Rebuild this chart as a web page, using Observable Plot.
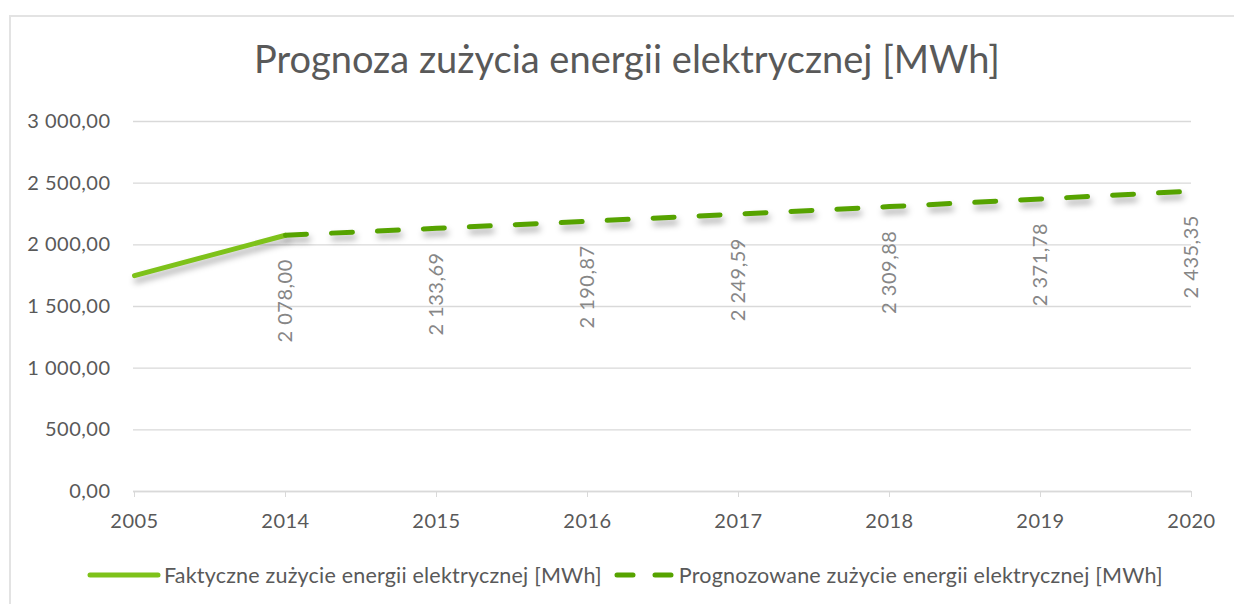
<!DOCTYPE html>
<html>
<head>
<meta charset="utf-8">
<script src="https://cdn.jsdelivr.net/npm/d3@7"></script>
<script src="https://cdn.jsdelivr.net/npm/@observablehq/plot@0.6"></script>
<style>
  html, body { margin: 0; padding: 0; background: #fff; }
  body { width: 1234px; height: 604px; overflow: hidden; position: relative; font-family: Lato, "Open Sans", sans-serif; }
  #frame { position: absolute; left: 9px; top: 15px; width: 1240px; height: 600px; border-left: 2px solid #e3e3e3; border-top: 2px solid #e3e3e3; box-sizing: border-box; }
  #chart { position: absolute; left: 0; top: 0; }
  #title { position: absolute; left: 0; width: 1254px; top: 35px; text-align: center; font-size: 38px; color: #595959; white-space: nowrap; }
  #legend { position: absolute; left: 87px; top: 562px; height: 26px; display: flex; align-items: center; font-size: 21.5px; color: #595959; white-space: nowrap; letter-spacing: 0.2px; }
  #legend svg { display: block; }
  svg g[aria-label="line"] path { filter: drop-shadow(2px 5px 3px rgba(0,0,0,0.32)); }
  svg text { letter-spacing: 0.5px; }
</style>
</head>
<body>
<div id="frame"></div>
<div id="chart"></div>
<div id="title">Prognoza zużycia energii elektrycznej [MWh]</div>
<div id="legend"></div>
<script>
// ---- data ----
const years = ["2005", "2014", "2015", "2016", "2017", "2018", "2019", "2020"];
const actualYears = ["2005", "2014"];
const actualValues = [1750, 2078.00];
const forecastYears = ["2014", "2015", "2016", "2017", "2018", "2019", "2020"];
const forecastValues = [2078.00, 2133.69, 2190.87, 2249.59, 2309.88, 2371.78, 2435.35];
const yTicks = [0, 500, 1000, 1500, 2000, 2500, 3000];
const seriesNames = ["Faktyczne zużycie energii elektrycznej [MWh]", "Prognozowane zużycie energii elektrycznej [MWh]"];
const seriesColors = ["#7ec21a", "#56a300"];

const locale = d3.formatLocale({decimal: ",", thousands: " ", grouping: [3], currency: ["", " zł"]});
const fmt = locale.format(",.2f");

const actual = actualYears.map((y, i) => ({year: y, value: actualValues[i]}));
const forecast = forecastYears.map((y, i) => ({year: y, value: forecastValues[i]}));

const chart = Plot.plot({
  width: 1234,
  height: 604,
  marginLeft: 133,
  marginRight: 43,
  marginTop: 121,
  marginBottom: 113,
  style: {fontFamily: "Lato, 'Open Sans', sans-serif", background: "transparent"},
  x: {type: "point", domain: years, padding: 0},
  y: {domain: [0, 3000]},
  marks: [
    Plot.gridY(yTicks, {stroke: "#d9d9d9", strokeOpacity: 1, strokeWidth: 1.3}),
    Plot.ruleY([0], {stroke: "#d9d9d9", strokeWidth: 1.5}),
    Plot.axisX({tickSize: 6, stroke: "#d9d9d9", strokeOpacity: 1, tickPadding: 16, fontSize: 20, fill: "#595959", label: null}),
    Plot.axisY(yTicks, {tickSize: 0, tickPadding: 23, tickFormat: fmt, fontSize: 20, fill: "#595959", label: null}),
    Plot.line(actual, {x: "year", y: "value", stroke: seriesColors[0], strokeWidth: 5, strokeLinecap: "round", strokeLinejoin: "round"}),
    Plot.line(forecast, {x: "year", y: "value", stroke: seriesColors[1], strokeWidth: 5, strokeLinecap: "round", strokeLinejoin: "round", strokeDasharray: "21,25"}),
    Plot.text(forecast, {x: "year", y: "value", text: d => fmt(d.value), rotate: -90, textAnchor: "end", dy: 24, fontSize: 20, fill: "#868686"})
  ]
});
document.getElementById("chart").appendChild(chart);

// ---- legend ----
const legend = document.getElementById("legend");
function sample(i) {
  const ns = "http://www.w3.org/2000/svg";
  const s = document.createElementNS(ns, "svg");
  s.setAttribute("width", i === 0 ? 76 : 64); s.setAttribute("height", 12);
  const l = document.createElementNS(ns, "line");
  l.setAttribute("y1", 6); l.setAttribute("y2", 6);
  l.setAttribute("stroke", seriesColors[i]); l.setAttribute("stroke-width", 5); l.setAttribute("stroke-linecap", "round");
  if (i === 0) { l.setAttribute("x1", 3); l.setAttribute("x2", 71); }
  else { l.setAttribute("x1", 3); l.setAttribute("x2", 61); l.setAttribute("stroke-dasharray", "16,22"); }
  s.appendChild(l);
  return s;
}
seriesNames.forEach((name, i) => {
  const item = document.createElement("div");
  item.style.display = "flex"; item.style.alignItems = "center";
  item.style.marginRight = i === 0 ? "12px" : "0";
  item.appendChild(sample(i));
  const t = document.createElement("span");
  t.textContent = name;
  t.style.marginLeft = "1px";
  item.appendChild(t);
  legend.appendChild(item);
});
</script>
</body>
</html>
